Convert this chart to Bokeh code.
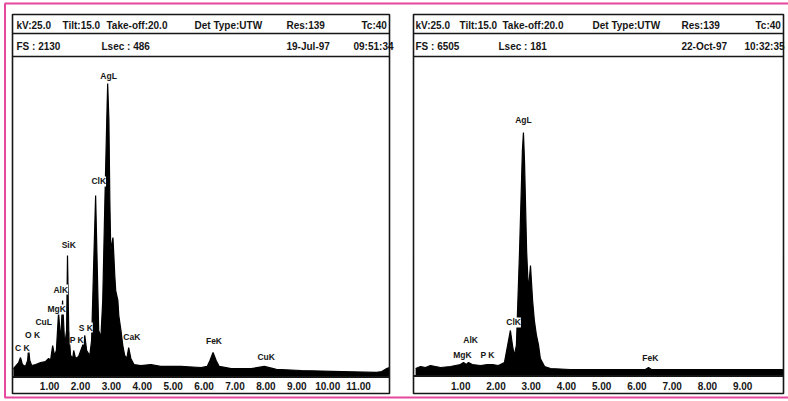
from bokeh.plotting import figure
from bokeh.models import Range1d
from bokeh.core.properties import value
from bokeh.embed import file_html
from bokeh.resources import INLINE

# ---------------- data ----------------
# Panel A spectrum (keV, counts), full scale 2130
energy_a = [-0.17, 0.00, 0.06, 0.12, 0.22, 0.29, 0.32, 0.36, 0.42, 0.55,
            0.71, 0.87, 0.97, 1.03, 1.10, 1.16, 1.22, 1.29, 1.36, 1.42,
            1.49, 1.55, 1.58, 1.62, 1.68, 1.75, 1.78, 1.84, 1.94, 2.01,
            2.07, 2.14, 2.20, 2.30, 2.36, 2.43, 2.49, 2.53, 2.59, 2.66,
            2.72, 2.79, 2.85, 2.88, 2.92, 2.95, 2.98, 3.05, 3.08, 3.11,
            3.14, 3.21, 3.24, 3.31, 3.37, 3.43, 3.50, 3.56, 3.63, 3.73,
            3.95, 4.28, 4.60, 5.25, 5.90, 6.10, 6.19, 6.29, 6.39, 6.49,
            6.88, 7.53, 7.95, 8.34, 9.15, 10.45, 11.58, 11.75, 11.91, 12.00]
counts_a = [53, 93, 126, 80, 67, 106, 186, 106, 73, 80,
            93, 100, 120, 106, 206, 140, 173, 426, 240, 506,
            206, 306, 805, 306, 140, 120, 173, 120, 133, 173,
            206, 273, 173, 140, 240, 772, 1205, 839, 306, 260,
            506, 1171, 1704, 1950, 1704, 1171, 839, 925, 805, 672,
            572, 506, 406, 306, 206, 140, 120, 193, 120, 80,
            73, 80, 67, 67, 60, 67, 106, 160, 106, 67,
            53, 53, 67, 47, 40, 33, 27, 33, 53, 60]

# Panel B spectrum (keV, counts), full scale 6505
energy_b = [-0.28, -0.14, 0.00, 0.14, 0.43, 0.71, 0.85, 0.99, 1.08, 1.16,
            1.22, 1.33, 1.56, 1.76, 1.90, 2.07, 2.24, 2.33, 2.41, 2.47,
            2.52, 2.58, 2.67, 2.75, 2.78, 2.81, 2.87, 2.92, 2.98, 3.04,
            3.09, 3.15, 3.21, 3.26, 3.38, 3.55, 4.11, 4.96, 6.24, 6.33,
            6.41, 7.80, 10.16]
counts_b = [143, 184, 163, 204, 163, 184, 204, 224, 265, 224,
            265, 224, 204, 224, 224, 204, 265, 612, 918, 612,
            408, 612, 2549, 4588, 4955, 4384, 2549, 1733, 2243, 1529,
            1121, 816, 612, 347, 184, 143, 122, 122, 122, 163,
            122, 122, 122]

# Peak labels (name, energy keV, counts at label)
peaks_a = ["AgL", "ClK", "SiK", "AlK", "MgK", "CuL", "O K", "C K", "P K", "S K", "CaK", "FeK", "CuK"]
peak_e_a = [2.91, 2.59, 1.62, 1.36, 1.23, 0.81, 0.45, 0.12, 1.88, 2.17, 3.66, 6.32, 8.01]
peak_c_a = [2003, 1298, 872, 579, 446, 366, 273, 193, 246, 326, 260, 233, 133]

peaks_b = ["AgL", "ClK", "AlK", "MgK", "P K", "FeK"]
peak_e_b = [2.78, 2.50, 1.28, 1.05, 1.76, 6.38]
peak_c_b = [5220, 1081, 714, 428, 408, 347]

ticks_a = [1, 2, 3, 4, 5, 6, 7, 8, 9, 10, 11]
ticks_b = [1, 2, 3, 4, 5, 6, 7, 8, 9]

header_a_1 = ["kV:25.0", "Tilt:15.0", "Take-off:20.0", "Det Type:UTW", "Res:139", "Tc:40"]
header_a_2 = ["FS : 2130", "Lsec : 486", "19-Jul-97", "09:51:34"]
header_b_1 = ["kV:25.0", "Tilt:15.0", "Take-off:20.0", "Det Type:UTW", "Res:139", "Tc:40"]
header_b_2 = ["FS : 6505", "Lsec : 181", "22-Oct-97", "10:32:35"]

fullscale_a = 2130
fullscale_b = 6505

# ---------------- layout ----------------
W, H = 788, 401
FONT = value("Liberation Sans")
INK = "#161616"

p = figure(width=W, height=H, x_range=Range1d(0, W), y_range=Range1d(H, 0),
           output_backend="svg", toolbar_location=None,
           x_axis_location=None, y_axis_location=None,
           min_border=0, outline_line_color=None)
p.grid.visible = False
p.background_fill_color = "white"
p.border_fill_color = "white"
p.styles = {"position": "absolute", "left": "0px", "top": "0px"}


def add_ranges(name, px0, px1, e0, e1, py_top, py_bot, c_top):
    k = (px1 - px0) / (e1 - e0)
    p.extra_x_ranges[name] = Range1d(e0 - px0 / k, e0 + (W - px0) / k)
    ky = (py_bot - py_top) / c_top
    p.extra_y_ranges[name] = Range1d(-(H - py_bot) / ky, py_bot / ky)


panels = [
    dict(name="a", left=12, right=389, top=14, sep=33, hbot=56, base=376, bottom=393,
         e0=-0.2, e1=12.0, fs=fullscale_a, energy=energy_a, counts=counts_a,
         peaks=peaks_a, pe=peak_e_a, pc=peak_c_a, ticks=ticks_a,
         h1=header_a_1, h1x=[16, 62, 106, 194, 286, 361],
         h2=header_a_2, h2x=[16, 101, 286, 353]),
    dict(name="b", left=413, right=783, top=14, sep=33, hbot=56, base=375, bottom=393,
         e0=-0.34, e1=10.16, fs=fullscale_b, energy=energy_b, counts=counts_b,
         peaks=peaks_b, pe=peak_e_b, pc=peak_c_b, ticks=ticks_b,
         h1=header_b_1, h1x=[415, 459, 502, 592, 681, 755],
         h2=header_b_2, h2x=[415, 498, 681, 744]),
]

# pink frame of the page
PINK = "#e5489c"
p.segment(x0=[4.5, 4, 4], y0=[3, 3, 397], x1=[4.5, W, W], y1=[397, 3, 397],
          line_color=PINK, line_width=2)

for pn in panels:
    n = pn["name"]
    add_ranges(n, pn["left"], pn["right"], pn["e0"], pn["e1"], pn["hbot"], pn["base"], pn["fs"])
    # spectrum
    p.varea(x=pn["energy"], y1=0, y2=pn["counts"], fill_color="black",
            x_range_name=n, y_range_name=n)
    p.line(x=pn["energy"], y=pn["counts"], line_color="black", line_width=1.2,
           x_range_name=n, y_range_name=n)
    # box and rules
    p.quad(left=[pn["left"]], right=[pn["right"]], top=[pn["top"]], bottom=[pn["bottom"]],
           fill_color=None, line_color=INK, line_width=1.6)
    p.segment(x0=[pn["left"]] * 3, x1=[pn["right"]] * 3,
              y0=[pn["sep"], pn["hbot"], pn["base"] + 0.5],
              y1=[pn["sep"], pn["hbot"], pn["base"] + 0.5],
              line_color=INK, line_width=[1.3, 1.6, 2.2])
    # header text
    p.text(x=pn["h1x"], y=[(pn["top"] + pn["sep"]) / 2 + 1] * len(pn["h1"]), text=pn["h1"],
           text_font=FONT, text_font_size="10px", text_font_style="bold",
           text_baseline="middle", text_align="left", text_color=INK)
    p.text(x=pn["h2x"], y=[(pn["sep"] + pn["hbot"]) / 2 + 1] * len(pn["h2"]), text=pn["h2"],
           text_font=FONT, text_font_size="10px", text_font_style="bold",
           text_baseline="middle", text_align="left", text_color=INK)
    # tick labels
    p.text(x=pn["ticks"], y=[(pn["base"] + pn["bottom"]) / 2 + 1] * len(pn["ticks"]),
           text=["%.2f" % t for t in pn["ticks"]], x_range_name=n,
           text_font=FONT, text_font_size="10px", text_font_style="bold",
           text_baseline="middle", text_align="center", text_color=INK)
    # peak labels
    p.text(x=pn["pe"], y=pn["pc"], text=pn["peaks"], x_range_name=n, y_range_name=n,
           text_font=FONT, text_font_size="8.5px", text_font_style="bold",
           text_baseline="middle", text_align="center", text_color=INK,
           background_fill_color="white", padding=0)

open("out.html", "w").write(file_html(p, INLINE))
